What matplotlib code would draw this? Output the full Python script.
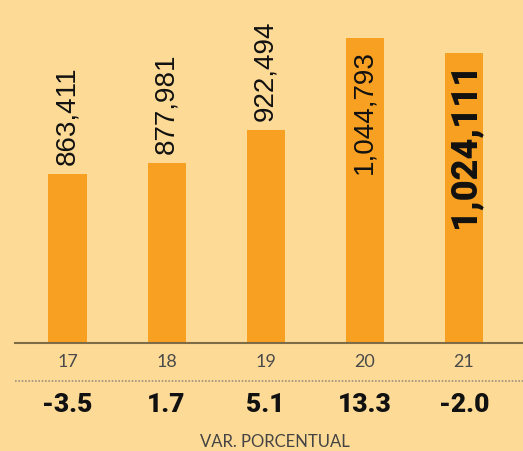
import matplotlib.pyplot as plt
from matplotlib.lines import Line2D

# datos
years = ['17', '18', '19', '20', '21']
values = [863411, 877981, 922494, 1044793, 1024111]
var_pct = ['-3.5', '1.7', '5.1', '13.3', '-2.0']

BG = '#FDDA96'
BAR = '#F7A022'

W, H = 523, 452
fig = plt.figure(figsize=(W / 100, H / 100), dpi=100, facecolor=BG)
ax = fig.add_axes([0, (H - 344) / H, 1, 344 / H])
ax.set_facecolor(BG)

x = list(range(len(years)))
ax.bar(x, values, width=0.385, color=BAR, zorder=2)
ax.set_xlim(-0.681, 4.596)
ax.set_ylim(638200, 1096300)

for s in ax.spines.values():
    s.set_visible(False)
ax.set_yticks([])
ax.set_xticks(x)
ax.set_xticklabels(years, fontsize=13, color='#4a4a4a', family='Lato')
ax.tick_params(axis='x', length=0, pad=7)

# linea base
fig.add_artist(Line2D([15 / W, 1], [(H - 344) / H] * 2, color='#7d6c47', lw=1.5))
# linea punteada
fig.add_artist(Line2D([15 / W, 1], [(H - 382) / H] * 2, color='#9a9080', lw=1.2, ls=(0, (1, 1))))

# etiquetas de valores
for i, v in enumerate(values):
    txt = f'{v:,}'
    if i < 3:
        ax.annotate(txt, (i, v), xytext=(0, 10), textcoords='offset pixels',
                    rotation=90, ha='center', va='bottom', fontsize=20,
                    family='Liberation Sans', color='#111111')
    elif i == 3:
        ax.annotate(txt, (i, v), xytext=(0, -11), textcoords='offset pixels',
                    rotation=90, ha='center', va='top', fontsize=20,
                    family='Liberation Sans', color='#111111')
    else:
        ax.annotate(txt, (i, v), xytext=(0, -8), textcoords='offset pixels',
                    rotation=90, ha='center', va='top', fontsize=26,
                    family='Roboto', fontweight='black', color='#111111')

# variacion porcentual
tr = ax.get_xaxis_transform()
for i, p in enumerate(var_pct):
    ax.text(i, -61 / 344, p, transform=tr, ha='center', va='center',
            fontsize=19, family='Roboto', fontweight='black', color='#111111')

fig.text(274.5 / W, (H - 442) / H, 'VAR. PORCENTUAL', ha='center', va='center',
         fontsize=12, family='Lato', color='#444444')

fig.savefig('out.png', dpi=100, facecolor=BG)
